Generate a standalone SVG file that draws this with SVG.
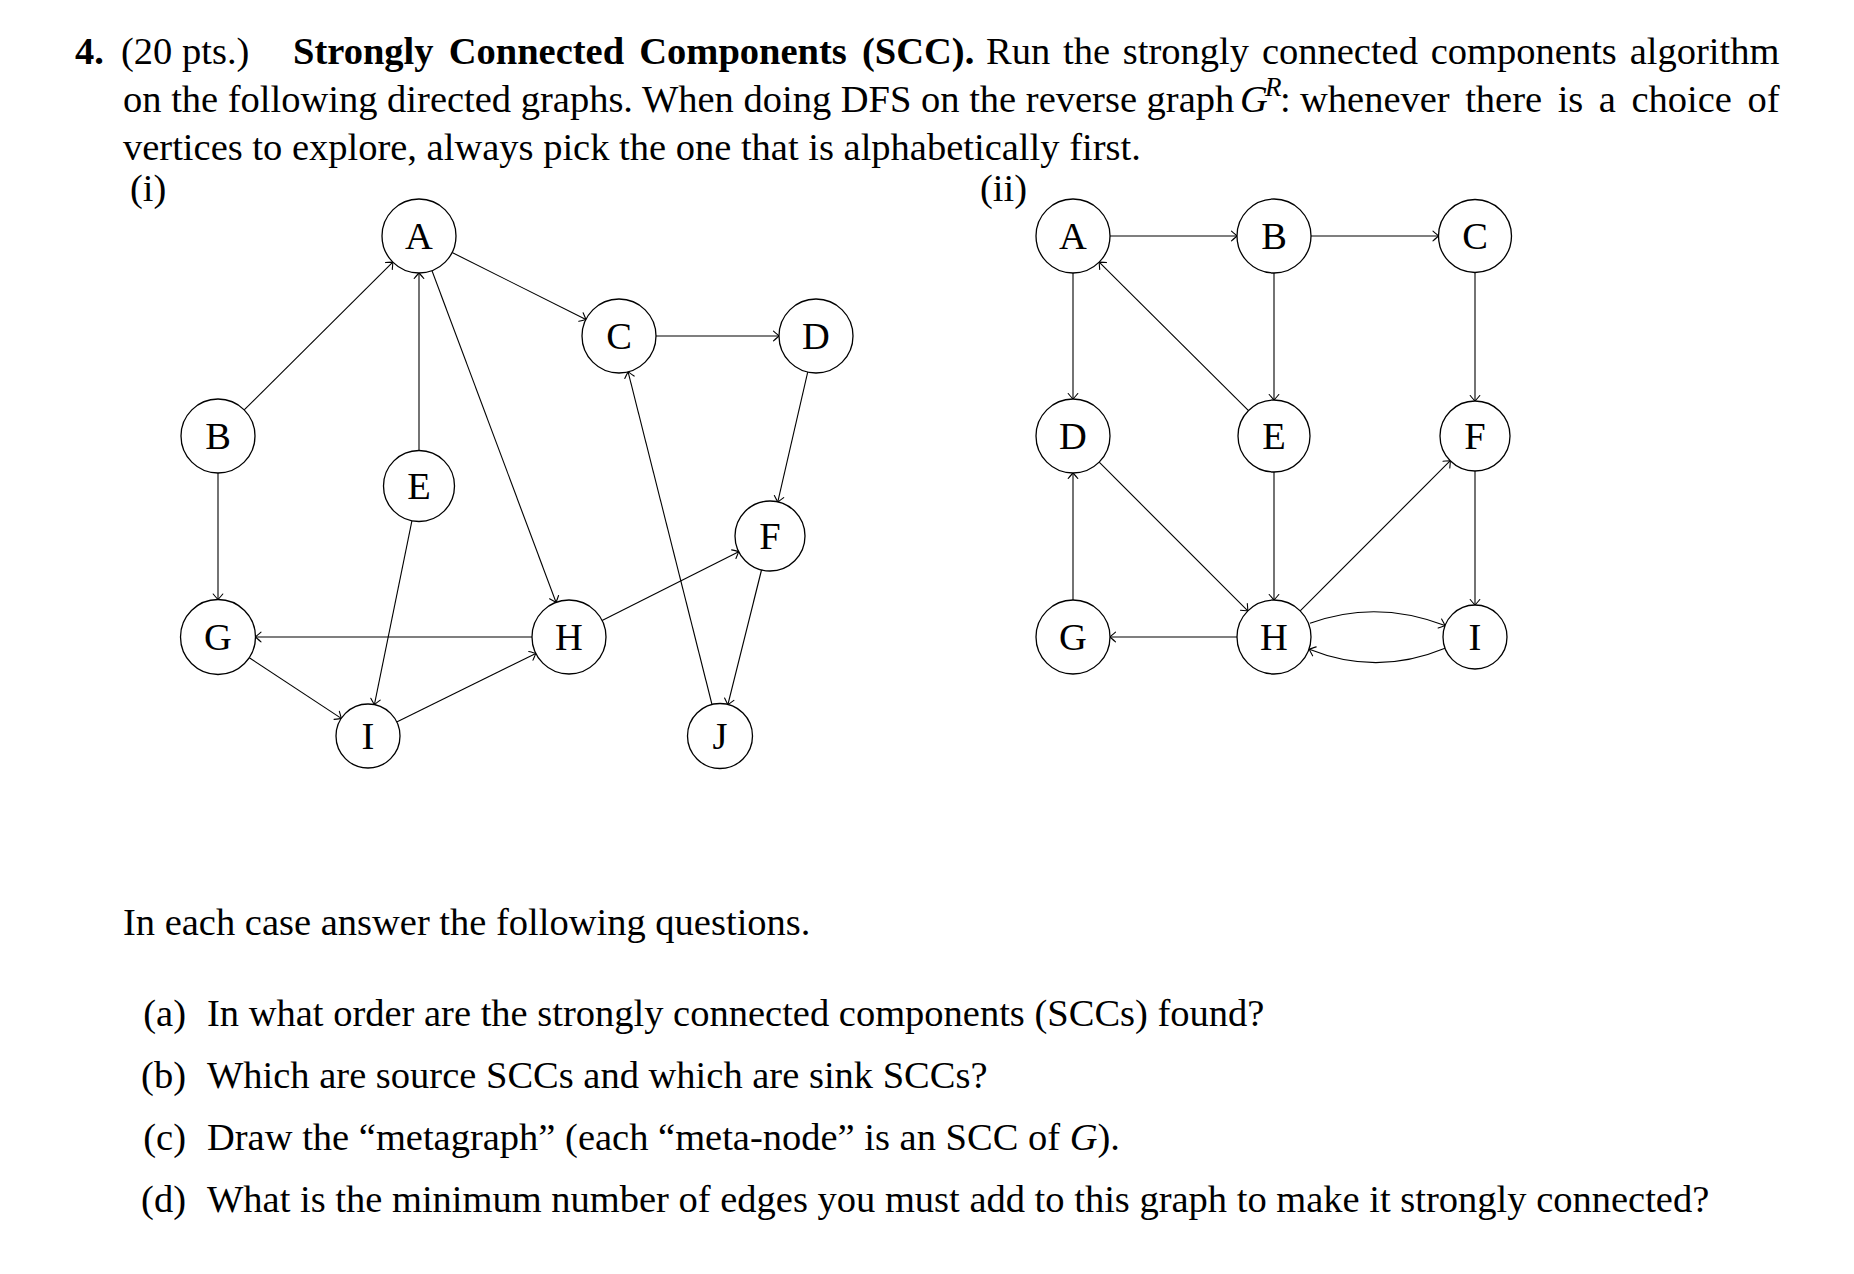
<svg xmlns="http://www.w3.org/2000/svg" width="1854" height="1274" viewBox="0 0 1854 1274">
<style>
text{font-family:"Liberation Serif","Times New Roman",serif;font-size:38.5px;fill:#000}
.b{font-weight:bold}
.it{font-style:italic}
.node circle{fill:#fff;stroke:#000;stroke-width:1.3}
.node text{text-anchor:middle}
.edges path,.edges line{fill:none;stroke:#000;stroke-width:1.1;marker-end:url(#arr)}
</style>
<defs>
<marker id="arr" markerUnits="userSpaceOnUse" orient="auto" refX="0" refY="0" viewBox="-7 -7 9 14" markerWidth="9" markerHeight="14">
<path d="M-5.5,-4.8 Q-1.2,-1.2 0,0 Q-1.2,1.2 -5.5,4.8" fill="none" stroke="#000" stroke-width="1.1" stroke-linecap="round"/>
</marker>
</defs>
<rect width="1854" height="1274" fill="#fff"/>

<g id="header">
<text x="75" y="64" class="b">4.</text>
<text x="121" y="64">(20 pts.)</text>
<text x="293" y="64" class="b" word-spacing="5.6">Strongly Connected Components (SCC).</text>
<text x="986" y="64" word-spacing="3.2">Run the strongly connected components algorithm</text>
<text x="123" y="112">on the following directed graphs. When doing DFS on the reverse graph</text>
<text x="1240" y="112" class="it">G</text>
<text x="1265" y="96" class="it" style="font-size:27px">R</text>
<text x="1280" y="112">:</text>
<text x="1300" y="112" word-spacing="5.9">whenever there is a choice of</text>
<text x="123" y="160">vertices to explore, always pick the one that is alphabetically first.</text>
<text x="130" y="201">(i)</text>
<text x="980" y="201">(ii)</text>
</g>

<g id="edges-i" class="edges">
<line x1="244.2" y1="409.9" x2="392.8" y2="262.1"/>
<line x1="419" y1="450.5" x2="419" y2="273"/>
<line x1="452.1" y1="252.5" x2="585.9" y2="319.5"/>
<line x1="432" y1="270.7" x2="556" y2="602.3"/>
<line x1="656" y1="336" x2="779" y2="336"/>
<line x1="807.7" y1="372.1" x2="777.8" y2="501.9"/>
<line x1="218" y1="473" x2="218" y2="599.5"/>
<line x1="411.9" y1="520.8" x2="374.4" y2="704.6"/>
<line x1="532" y1="637" x2="255.5" y2="637"/>
<line x1="249.3" y1="657.7" x2="341.3" y2="718.4"/>
<line x1="396.7" y1="721.9" x2="535.8" y2="653.4"/>
<line x1="602.1" y1="620.4" x2="738.7" y2="551.7"/>
<line x1="712" y1="704.5" x2="628.1" y2="371.9"/>
<line x1="761.5" y1="570" x2="727.9" y2="704.5"/>
</g>

<g id="edges-ii" class="edges">
<line x1="1110" y1="236" x2="1237" y2="236"/>
<line x1="1311" y1="236" x2="1438.5" y2="236"/>
<line x1="1073" y1="273" x2="1073" y2="399"/>
<line x1="1274" y1="273" x2="1274" y2="400"/>
<line x1="1475" y1="272.5" x2="1475" y2="401"/>
<line x1="1248.5" y1="410.6" x2="1099.2" y2="262.1"/>
<line x1="1099.2" y1="462.2" x2="1247.8" y2="610.8"/>
<line x1="1274" y1="472" x2="1274" y2="600"/>
<line x1="1300.2" y1="610.8" x2="1450.3" y2="460.7"/>
<line x1="1475" y1="471" x2="1475" y2="605"/>
<line x1="1073" y1="600" x2="1073" y2="473"/>
<line x1="1237" y1="637" x2="1110" y2="637"/>
<path d="M1310,623.3 Q1376,599 1445,625.5"/>
<path d="M1445,648.3 Q1377,676.5 1309.3,649.3"/>
</g>

<g id="i-A" class="node"><circle cx="419" cy="236" r="37"/><text x="419" y="249">A</text></g>
<g id="i-C" class="node"><circle cx="619" cy="336" r="37"/><text x="619" y="349">C</text></g>
<g id="i-D" class="node"><circle cx="816" cy="336" r="37"/><text x="816" y="349">D</text></g>
<g id="i-B" class="node"><circle cx="218" cy="436" r="37"/><text x="218" y="449">B</text></g>
<g id="i-E" class="node"><circle cx="419" cy="486" r="35.5"/><text x="419" y="499">E</text></g>
<g id="i-F" class="node"><circle cx="770" cy="536" r="35"/><text x="770" y="549">F</text></g>
<g id="i-G" class="node"><circle cx="218" cy="637" r="37.5"/><text x="218" y="650">G</text></g>
<g id="i-H" class="node"><circle cx="569" cy="637" r="37"/><text x="569" y="650">H</text></g>
<g id="i-I" class="node"><circle cx="368" cy="736" r="32"/><text x="368" y="749">I</text></g>
<g id="i-J" class="node"><circle cx="720" cy="736" r="32.5"/><text x="720" y="749">J</text></g>

<g id="ii-A" class="node"><circle cx="1073" cy="236" r="37"/><text x="1073" y="249">A</text></g>
<g id="ii-B" class="node"><circle cx="1274" cy="236" r="37"/><text x="1274" y="249">B</text></g>
<g id="ii-C" class="node"><circle cx="1475" cy="236" r="36.5"/><text x="1475" y="249">C</text></g>
<g id="ii-D" class="node"><circle cx="1073" cy="436" r="37"/><text x="1073" y="449">D</text></g>
<g id="ii-E" class="node"><circle cx="1274" cy="436" r="36"/><text x="1274" y="449">E</text></g>
<g id="ii-F" class="node"><circle cx="1475" cy="436" r="35"/><text x="1475" y="449">F</text></g>
<g id="ii-G" class="node"><circle cx="1073" cy="637" r="37"/><text x="1073" y="650">G</text></g>
<g id="ii-H" class="node"><circle cx="1274" cy="637" r="37"/><text x="1274" y="650">H</text></g>
<g id="ii-I" class="node"><circle cx="1475" cy="637" r="32"/><text x="1475" y="650">I</text></g>

<g id="questions">
<text x="123" y="935">In each case answer the following questions.</text>
<text x="186" y="1026" text-anchor="end">(a)</text>
<text x="207" y="1026">In what order are the strongly connected components (SCCs) found?</text>
<text x="186" y="1088" text-anchor="end">(b)</text>
<text x="207" y="1088">Which are source SCCs and which are sink SCCs?</text>
<text x="186" y="1150" text-anchor="end">(c)</text>
<text x="207" y="1150">Draw the “metagraph” (each “meta-node” is an SCC of <tspan class="it">G</tspan>).</text>
<text x="186" y="1212" text-anchor="end">(d)</text>
<text x="207" y="1212">What is the minimum number of edges you must add to this graph to make it strongly connected?</text>
</g>
</svg>
